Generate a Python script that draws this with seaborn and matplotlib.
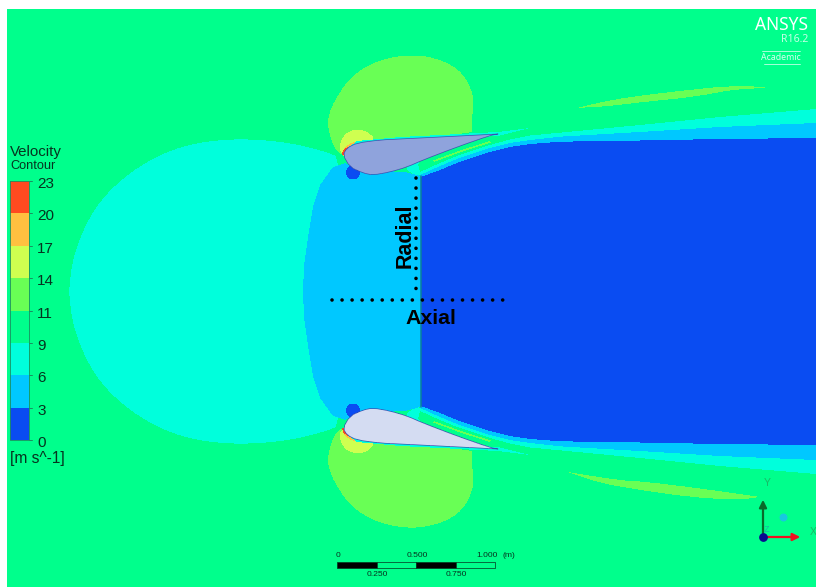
import numpy as np
import matplotlib
matplotlib.use("Agg")
import matplotlib.pyplot as plt
from matplotlib.colors import ListedColormap
from matplotlib.path import Path
import seaborn as sns

# ---- colour levels of the contour legend (plus the two aerofoil fills and the page margin)
level_colors = ["#0A4CF2", "#00C8FF", "#00FFDC", "#00FF8C", "#69FF55",
                "#CFFF50", "#FFC040", "#FF4A20", "#8FA3DC", "#D4DCF2", "#FFFFFF"]
legend_ticks = ["23", "20", "17", "14", "11", "9", "6", "3", "0"]
legend_levels = [7, 6, 5, 4, 3, 2, 1, 0]

MIRROR = 583  # the flow field is symmetric about y = 291.5 px

# ---- region outlines (upper half, px)
blob_x = [345, 320, 290, 262, 235, 200, 165, 130, 100, 82, 72, 69]
blob_y = [159, 150, 143, 140, 139, 142, 152, 172, 200, 232, 262, 292]
core_x = [421, 421, 405, 360, 345, 333, 320, 313, 308, 304, 303]
core_y = [176, 176, 172, 170, 163, 167, 185, 207, 237, 265, 292]
lobe_x = [345, 333, 328, 328, 333, 350, 377, 413, 443, 463, 473, 473, 472, 472, 472, 420]
lobe_y = [158, 147, 127, 118, 103, 77, 60, 54, 60, 73, 93, 108, 120, 132, 132, 140]
wake2_x = [420, 440, 457, 490, 510, 530, 560, 640, 720, 816, 816, 420]
wake2_y = [172, 163, 156, 145, 139.5, 135.5, 132.7, 125, 117, 109, 292, 292]
wake1_x = [420, 440, 457, 490, 510, 530, 560, 640, 720, 816, 816, 420]
wake1_y = [175, 166, 159, 148, 143, 140, 136.7, 132, 127, 123, 292, 292]
wake0_x = [421, 440, 457, 490, 510, 530, 560, 640, 720, 816, 816, 421]
wake0_y = [177, 170, 163, 152, 147, 144, 141.7, 140.5, 139, 138, 292, 292]
wedge_x = [418, 420, 440, 457, 490, 510, 498]
wedge_y = [164, 172, 163, 156, 145, 139.5, 134]
strip_x = [433, 460, 490, 491, 461, 434]
strip_y = [160.5, 150.5, 141, 142.5, 152, 162]
bump_x = [405, 411, 416, 421, 421, 418]
bump_y = [168, 173, 175, 176, 165, 160]
film_x = [346, 357, 400, 450, 498, 530, 498, 450, 400, 357, 346]
film_y = [149, 141, 137, 134.5, 132, 128, 136, 139, 142, 147, 155]
glow_x = [339, 341, 347, 358, 368, 376, 360, 345]
glow_y = [150, 140, 132, 129, 132, 140, 148, 156]
arc_x = [342, 344, 352, 359, 351, 345]
arc_y = [155, 148, 142, 143, 149, 156]
tip_x = [342, 343, 348, 346]
tip_y = [155, 150, 147, 155]
wing_x = [343, 347, 357, 380, 400, 450, 498, 498, 490, 457, 423, 407, 390, 373, 363, 350]
wing_y = [155, 148, 143, 140, 139, 136.5, 134, 134, 135.5, 147, 160, 167, 172, 175, 173, 167]
streak_top_x = [577, 577, 610, 660, 737, 770, 770, 737, 693, 643, 610]
streak_top_y = [108, 108, 100, 93, 85, 88, 88, 89, 97, 102, 106]
streak_bot_x = [568, 568, 617, 647, 697, 760, 760, 737, 690, 640, 600]
streak_bot_y = [472, 472, 480, 482, 488, 497, 497, 500, 497, 490, 483]

radial_x = [416, 416]
radial_y = [178, 289]
axial_x = [332, 503]
axial_y = [299.5, 299.5]
scale_edges = [337, 377, 416, 456, 495]
scale_upper = ["0", "0.500", "1.000"]
scale_upper_x = [338, 417, 487]
scale_lower = ["0.250", "0.750"]


def chaikin(x, y, n=2):
    pts = np.column_stack([x, y], ).astype(float)
    for _ in range(n):
        nxt = np.roll(pts, -1, axis=0)
        pts = np.column_stack([0.75 * pts + 0.25 * nxt, 0.25 * pts + 0.75 * nxt]).reshape(-1, 2)
    return pts


H, W = 587, 816
gx, gy = np.meshgrid(np.arange(W) + 0.5, np.arange(H) + 0.5)
grid_pts = np.column_stack([gx.ravel(), gy.ravel()])
field = np.full((H, W), 3, dtype=float)


def paint(pts, level):
    field[Path(pts).contains_points(grid_pts).reshape(H, W)] = level


def sym(x, y):
    """Closed outline from upper half plus its mirror image."""
    x, y = np.asarray(x, float), np.asarray(y, float)
    return np.r_[x, x[::-1]], np.r_[y, (MIRROR - y)[::-1]]


def both(x, y, level, smooth=True):
    x, y = np.asarray(x, float), np.asarray(y, float)
    for yy in (y, MIRROR - y):
        paint(chaikin(x, yy) if smooth else np.column_stack([x, yy]), level)


paint(chaikin(*sym(blob_x, blob_y)), 2)
both(lobe_x, lobe_y, 4)
both(glow_x, glow_y, 5)
both(arc_x, arc_y, 6)
both(tip_x, tip_y, 7, False)
paint(np.column_stack(sym(core_x, core_y)), 1)
both(bump_x, bump_y, 2)
paint(np.column_stack(sym(wake2_x[:-1], wake2_y[:-1])), 2)
paint(np.column_stack(sym(wake1_x[:-1], wake1_y[:-1])), 1)
paint(np.column_stack(sym(wake0_x[:-1], wake0_y[:-1])), 0)
both(wedge_x, wedge_y, 3, False)
both(strip_x, strip_y, 4, False)
both(film_x, film_y, 2, False)
paint(chaikin(streak_top_x, streak_top_y, 1), 4)
paint(chaikin(streak_bot_x, streak_bot_y, 1), 4)
# vortex spots ahead of each wing
theta = np.linspace(0, 2 * np.pi, 40)
paint(np.column_stack([353 + 7 * np.cos(theta), 172.5 + 7 * np.sin(theta)]), 0)
paint(np.column_stack([353 + 7 * np.cos(theta), MIRROR - 172.5 + 7 * np.sin(theta)]), 0)
# aerofoils
w_up = chaikin(wing_x, wing_y, 1)
w_lo = chaikin(wing_x, MIRROR - np.asarray(wing_y), 1)
paint(w_up, 8)
paint(w_lo, 9)
# colour legend strip
for i, lev in enumerate(legend_levels):
    top = 181 + i * 32.4
    field[int(round(top)):int(round(top + 32.4)), 10:29] = lev
# page margins
field[:9, :] = 10
field[:, :7] = 10

sns.set_theme(style="white")
plt.rcParams["font.family"] = ["Liberation Sans", "DejaVu Sans"]
fig = plt.figure(figsize=(8.16, 5.87), dpi=100)
ax = fig.add_axes([0, 0, 1, 1])
sns.heatmap(field, ax=ax, cmap=ListedColormap(level_colors), vmin=-0.5, vmax=10.5,
            cbar=False, xticklabels=False, yticklabels=False, linewidths=0, rasterized=True)
ax.set_xlim(0, W)
ax.set_ylim(H, 0)
ax.set_axis_off()

DARK = "#06331F"
# wing outlines and inlet-plane line
for w in (w_up, w_lo):
    ax.plot(*np.vstack([w, w[:1]]).T, color="#3A4FB0", lw=0.5)
ax.plot([420.5, 420.5], [176, 407], color="#0A7F9C", lw=1.1)

# legend
ax.plot([10, 10, 29, 29, 10], [181, 440, 440, 181, 181], color="#1B8F60", lw=0.6)
for i, lab in enumerate(legend_ticks):
    y = 181 + i * 32.4
    ax.plot([29, 32], [y, y], color="#1B8F60", lw=0.7)
    ax.text(37, y + 3, lab, fontsize=11, color=DARK, va="center", ha="left")
ax.text(10, 152, "Velocity", fontsize=10.8, color=DARK, va="center")
ax.text(10, 166, "Contour", fontsize=9.2, color=DARK, va="center")
ax.text(10, 459, "[m s^-1]", fontsize=11.2, color=DARK, va="center")

# annotations
dots = dict(color="black", lw=2.6, linestyle=(0, (0.01, 2.77)), dash_capstyle="round")
ax.plot(radial_x, radial_y, **dots)
ax.plot(axial_x, axial_y, **dots)
ax.text(405, 235.5, "Radial", rotation=90, fontsize=15.5, fontweight="bold",
        color="black", ha="center", va="center")
ax.text(430.5, 319, "Axial", fontsize=15.4, fontweight="bold", color="black",
        ha="center", va="center")

# ANSYS badge
ax.text(808, 25, "ANSYS", fontsize=12.5, family="Noto Sans", color="white", ha="right", va="center")
ax.text(808, 39, "R16.2", fontsize=7.5, family="Noto Sans", color="#C4FFE6", ha="right", va="center")
ax.text(781, 57.5, "Academic", fontsize=6.3, family="Noto Sans", color="#D6FFEE", ha="center", va="center")
ax.plot([762, 800], [50.5, 50.5], color="#C4FFE6", lw=0.6)
ax.plot([764, 800], [63.5, 63.5], color="#C4FFE6", lw=0.6)

# scale bar
for i in range(4):
    ax.fill_between(scale_edges[i:i + 2], 562, 568, color="black" if i % 2 == 0 else "#00FF8C",
                    edgecolor=DARK, lw=0.5)
for xp, lab in zip(scale_upper_x, scale_upper):
    ax.text(xp, 555.5, lab, fontsize=6.1, color=DARK, ha="center", va="center")
ax.text(509, 555.5, "(m)", fontsize=6.1, color=DARK, ha="center", va="center")
for xp, lab in zip(scale_edges[1::2], scale_lower):
    ax.text(xp, 575, lab, fontsize=6.1, color=DARK, ha="center", va="center")

# axis triad
ax.annotate("", xy=(803, 537), xytext=(763, 537),
            arrowprops=dict(arrowstyle="-|>", color="#F01020", lw=1.6, mutation_scale=11))
ax.annotate("", xy=(763, 497), xytext=(763, 537),
            arrowprops=dict(arrowstyle="-|>", color="#0A6A2A", lw=1.6, mutation_scale=11))
ax.scatter([763], [537], s=28, color="#0A0A90", zorder=5)
ax.scatter([783], [517], s=22, color="#18C8E0", zorder=5)
ax.text(767, 483, "Y", fontsize=7.5, color="#19B866", ha="center", va="center")
ax.text(813, 532, "X", fontsize=7.5, color="#19B866", ha="center", va="center")
ax.text(767, 530, "Z", fontsize=6.5, color="#19B8A0", ha="center", va="center")

fig.savefig("out.png", dpi=100)
